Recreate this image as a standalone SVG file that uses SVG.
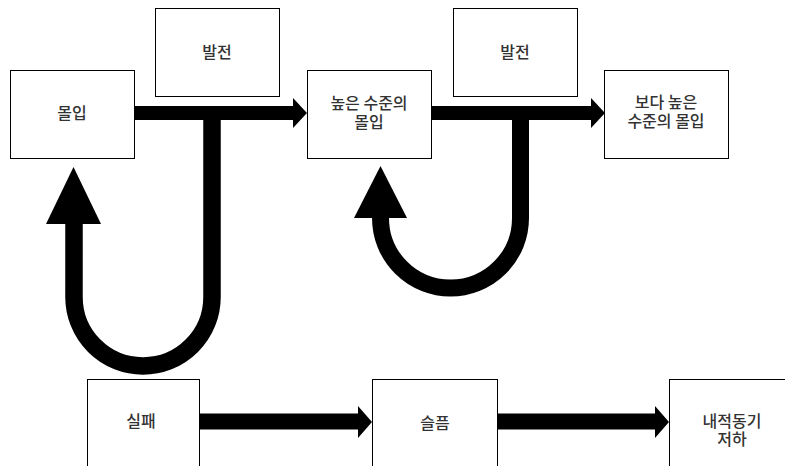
<svg xmlns="http://www.w3.org/2000/svg" width="785" height="466" viewBox="0 0 785 466">
<style>
.box{fill:#fff;stroke:#000;stroke-width:1}
.t{font-family:"Noto Sans CJK KR","Noto Sans",sans-serif;font-size:16px;font-weight:500;fill:#333;text-anchor:middle}
.sh{fill:none;stroke:#000}
.hd{fill:#000}
</style>
<rect width="785" height="466" fill="#fff"/>
<g id="connectors">
<path class="sh" d="M134,113 H294" stroke-width="14"/>
<polygon class="hd" points="293,98 307,113 293,128"/>
<path class="sh" d="M432,113 H592" stroke-width="14"/>
<polygon class="hd" points="591,98 605,113 591,128"/>
<path class="sh" d="M212,113 V297 A69,69 0 0 1 74,297 V223" stroke-width="17.5"/>
<polygon class="hd" points="46,224 73.5,167 101,224"/>
<path class="sh" d="M520.5,113 V218 A70,70 0 0 1 380.5,218 V217" stroke-width="17"/>
<polygon class="hd" points="354,218 380.5,166 407,218"/>
<path class="sh" d="M199,421.5 H359" stroke-width="16"/>
<polygon class="hd" points="358,406 372,422 358,438"/>
<path class="sh" d="M497,421.5 H656" stroke-width="16"/>
<polygon class="hd" points="655,406 669,422 655,438"/>
</g>
<g id="n1"><rect class="box" x="10.5" y="70.5" width="124" height="88"/><text class="t" x="72" y="119">몰입</text></g>
<g id="n2"><rect class="box" x="155.5" y="8.5" width="124" height="88"/><text class="t" x="217" y="58">발전</text></g>
<g id="n3"><rect class="box" x="307.5" y="70.5" width="124" height="88"/><text class="t" x="369" y="109"><tspan x="369">높은 수준의</tspan><tspan x="369" dy="19">몰입</tspan></text></g>
<g id="n4"><rect class="box" x="453.5" y="8.5" width="124" height="88"/><text class="t" x="515" y="58">발전</text></g>
<g id="n5"><rect class="box" x="604.5" y="70.5" width="124" height="88"/><text class="t" x="666" y="108"><tspan x="666">보다 높은</tspan><tspan x="666" dy="19">수준의 몰입</tspan></text></g>
<g id="n6"><rect class="box" x="87.5" y="379.5" width="112" height="88"/><text class="t" x="141" y="427">실패</text></g>
<g id="n7"><rect class="box" x="372.5" y="379.5" width="125" height="88"/><text class="t" x="435" y="428.5">슬픔</text></g>
<g id="n8"><rect class="box" x="669.5" y="379.5" width="124" height="88"/><text class="t" x="732" y="427"><tspan x="732">내적동기</tspan><tspan x="732" dy="18">저하</tspan></text></g>
</svg>
